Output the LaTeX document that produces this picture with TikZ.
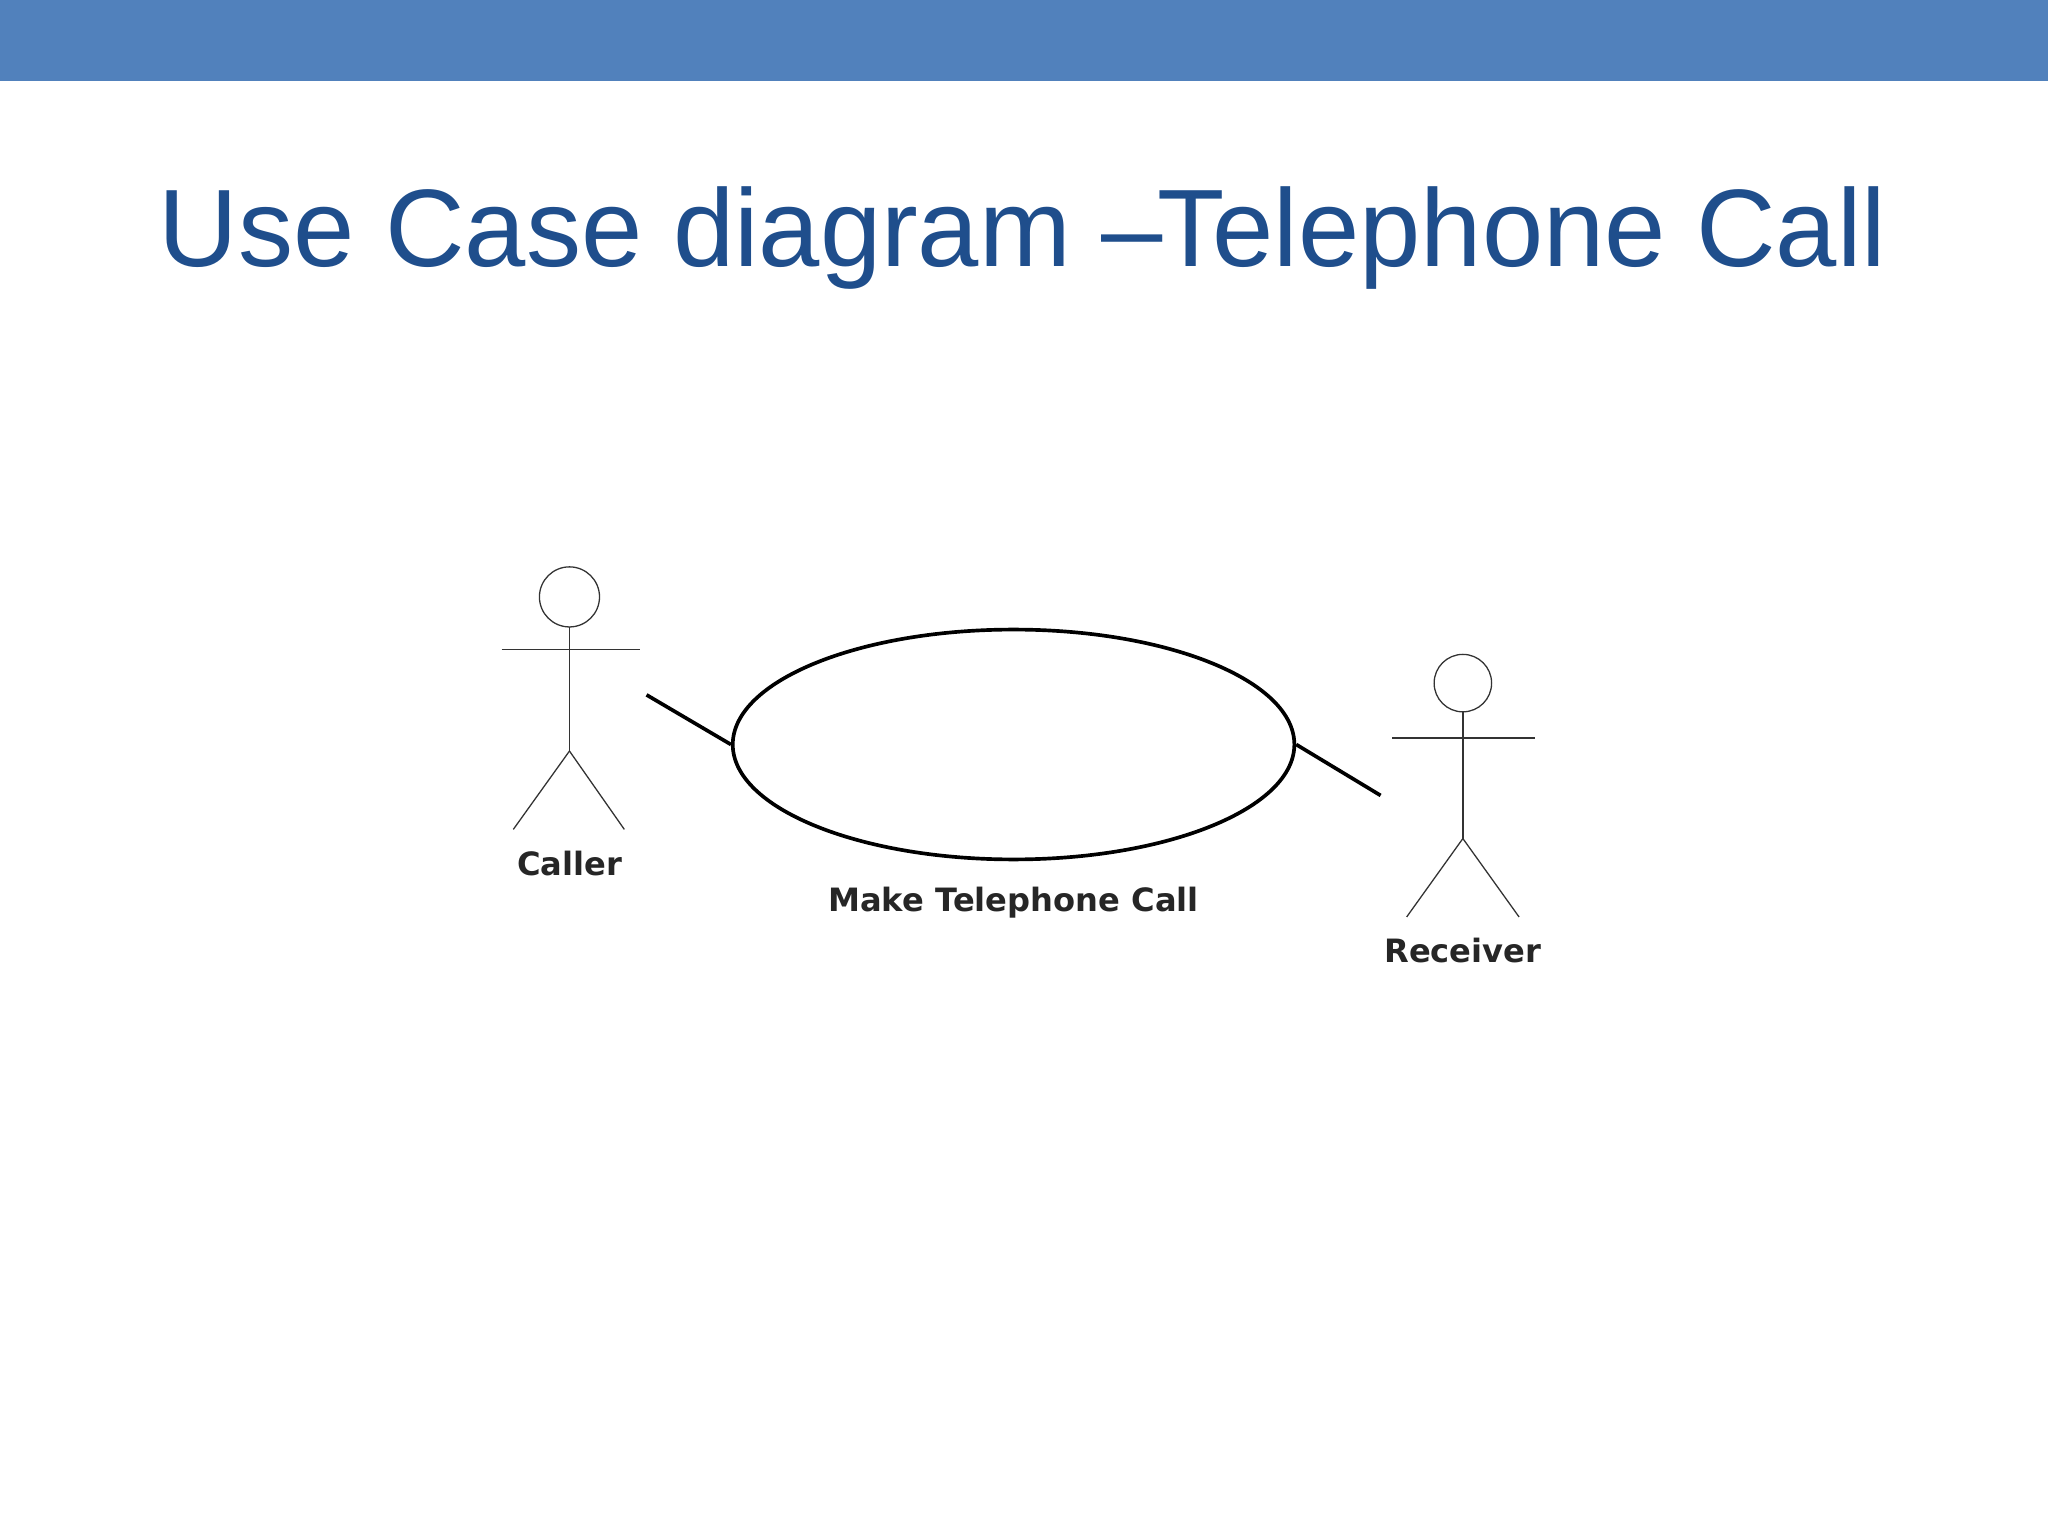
\documentclass[tikz,border=0pt]{standalone}
\usepackage{fontspec}
\usetikzlibrary{shapes.geometric}
\setmainfont{Liberation Sans}
\newfontfamily\lblfont{DejaVu Sans}
\definecolor{barblue}{HTML}{5181BC}
\definecolor{titleblue}{HTML}{1F4E8C}
\begin{document}
\begin{tikzpicture}[x=0.05cm,y=-0.05cm,
  actor/.style={line width=1.4pt,black!80},
  assoc/.style={line width=4pt,black},
  lbl/.style={font=\lblfont\fontsize{35}{40}\selectfont\bfseries,text=black!85}]
\useasboundingbox (0,0) rectangle (1568,1176);
\fill[barblue] (0,0) rectangle (1568,62);
\node[text=titleblue,font=\fontsize{120}{130}\selectfont] (title) at (783,182) {Use Case diagram --\kern-0.05em Telephone Call};
% Caller
\draw[actor] (436,457) circle (23);
\draw[actor] (384,497) -- (490,497);
\draw[actor] (436,480) -- (436,575) coordinate (cw);
\draw[actor] (cw) -- (393,635);
\draw[actor] (cw) -- (478,635);
\node[lbl] (caller) at (436,661) {Caller};
% Receiver
\draw[actor] (1120,523) circle (22);
\draw[actor] (1066,565) -- (1175,565);
\draw[actor] (1120,545) -- (1120,642) coordinate (rw);
\draw[actor] (rw) -- (1077,702);
\draw[actor] (rw) -- (1163,702);
\node[lbl] (receiver) at (1120,728) {Receiver};
% Use case
\node[draw,ellipse,line width=4pt,minimum width=21.5cm,minimum height=8.8cm,inner sep=0pt] (uc) at (776,570) {};
\node[lbl] (uclbl) at (776,691) {Make Telephone Call};
\coordinate (ca) at (495,532);
\coordinate (ra) at (1057,609);
\draw[assoc] (ca) -- (uc.west);
\draw[assoc] (uc.east) -- (ra);
\end{tikzpicture}
\end{document}
